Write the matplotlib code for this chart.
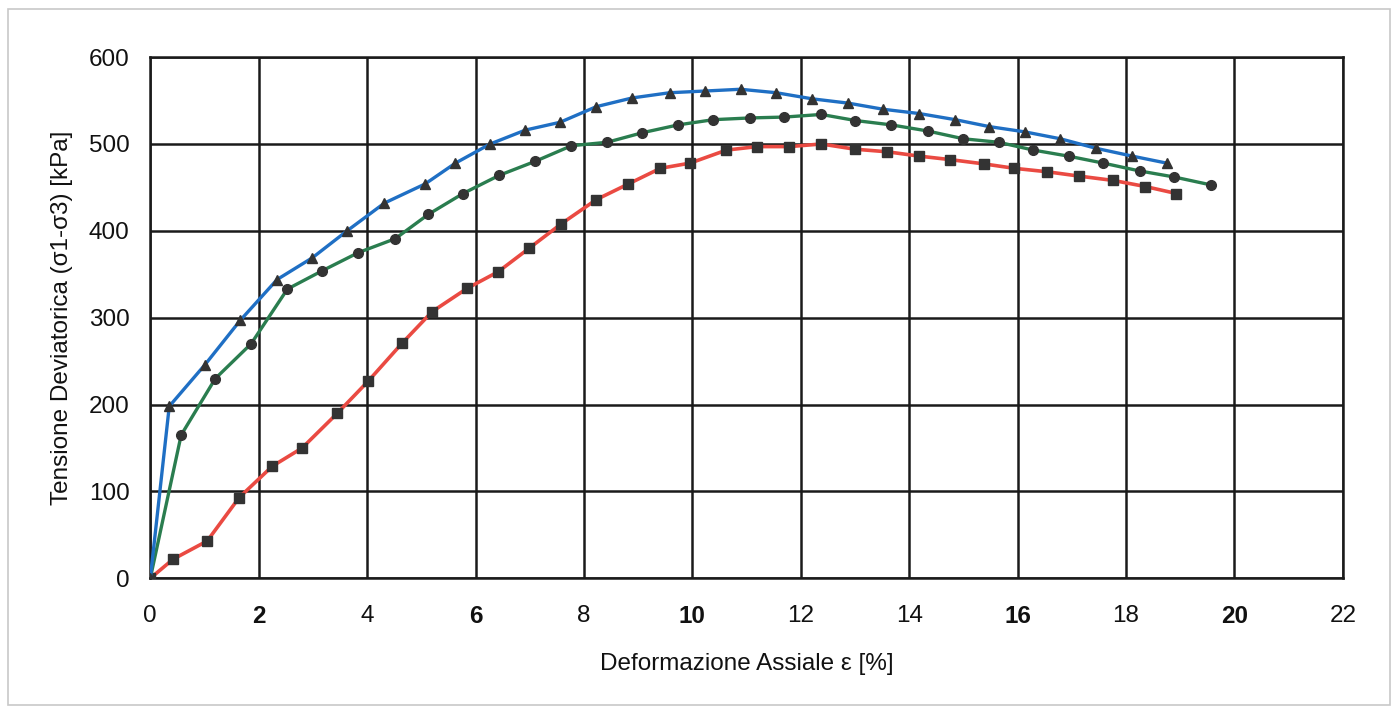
import matplotlib
matplotlib.use("Agg")
from matplotlib import pyplot as plt
from matplotlib.patches import Rectangle

plt.rcParams['font.family'] = ['Liberation Sans', 'DejaVu Sans']

# blue curve (triangles)
eps_a = [0, 0.35, 1.01, 1.66, 2.34, 2.99, 3.63, 4.32, 5.07, 5.63, 6.27, 6.92,
         7.56, 8.23, 8.89, 9.58, 10.24, 10.89, 11.55, 12.21, 12.88, 13.52,
         14.19, 14.85, 15.48, 16.13, 16.79, 17.45, 18.12, 18.75]
q_a = [0, 198, 246, 297, 344, 369, 400, 432, 454, 478, 500, 516,
       525, 543, 553, 559, 561, 563, 559, 552, 547, 540,
       535, 528, 520, 514, 506, 495, 486, 478]

# green curve (circles)
eps_b = [0, 0.57, 1.2, 1.86, 2.53, 3.17, 3.84, 4.52, 5.13, 5.77, 6.44, 7.1,
         7.77, 8.43, 9.08, 9.74, 10.39, 11.07, 11.7, 12.38, 13.01, 13.67,
         14.34, 15.0, 15.65, 16.29, 16.94, 17.58, 18.25, 18.89, 19.56]
q_b = [0, 165, 230, 270, 333, 354, 375, 391, 419, 443, 464, 480,
       498, 502, 513, 522, 528, 530, 531, 534, 527, 522,
       515, 506, 502, 493, 486, 478, 469, 462, 453]

# red curve (squares)
eps_c = [0, 0.42, 1.05, 1.64, 2.25, 2.8, 3.45, 4.02, 4.65, 5.2, 5.85, 6.42,
         6.99, 7.58, 8.23, 8.82, 9.41, 9.96, 10.63, 11.2, 11.79, 12.38,
         13.0, 13.6, 14.19, 14.76, 15.39, 15.94, 16.55, 17.14, 17.77, 18.36, 18.93]
q_c = [0, 22, 43, 93, 129, 150, 190, 227, 271, 307, 334, 353,
       380, 408, 436, 454, 472, 478, 493, 497, 497, 500,
       494, 491, 486, 482, 477, 472, 468, 463, 458, 451, 443]

xticks = list(range(0, 23, 2))
yticks = list(range(0, 601, 100))
bold_x = [2, 6, 10, 16, 20]

fig = plt.figure(figsize=(13.98, 7.14), dpi=100)
ax = fig.add_axes([0.1075, 0.19, 0.853, 0.73])

fig.patches.append(Rectangle((0.006, 0.012), 0.988, 0.976, transform=fig.transFigure,
                             fill=False, edgecolor='#c8c8c8', lw=1.2))

mk = dict(markerfacecolor='#333333', markeredgecolor='#333333', markersize=7)
ax.plot(eps_c, q_c, color='#ea4a42', lw=2.6, marker='s', zorder=3, **mk)
ax.plot(eps_b, q_b, color='#2a7d4f', lw=2.4, marker='o', zorder=4, **mk)
ax.plot(eps_a, q_a, color='#1f6fc4', lw=2.4, marker='^', zorder=5, **mk)

ax.set_xlim(0, 22)
ax.set_ylim(0, 600)
ax.set_xticks(xticks)
ax.set_yticks(yticks)
ax.grid(True, color='#1a1a1a', lw=1.8)
ax.set_axisbelow(True)
for s in ax.spines.values():
    s.set_color('#1a1a1a')
    s.set_linewidth(1.8)
ax.tick_params(length=0, labelsize=17.5, colors='#111111')
ax.tick_params(axis='x', pad=19)
ax.tick_params(axis='y', pad=15)
for lab, v in zip(ax.get_xticklabels(), xticks):
    if v in bold_x:
        lab.set_fontweight('bold')

ax.set_xlabel('Deformazione Assiale ε [%]', fontsize=17.5, labelpad=18, color='#111111')
ax.set_ylabel('Tensione Deviatorica (σ1-σ3) [kPa]', fontsize=17.5, labelpad=11, color='#111111')

fig.savefig('out.png', dpi=100)
